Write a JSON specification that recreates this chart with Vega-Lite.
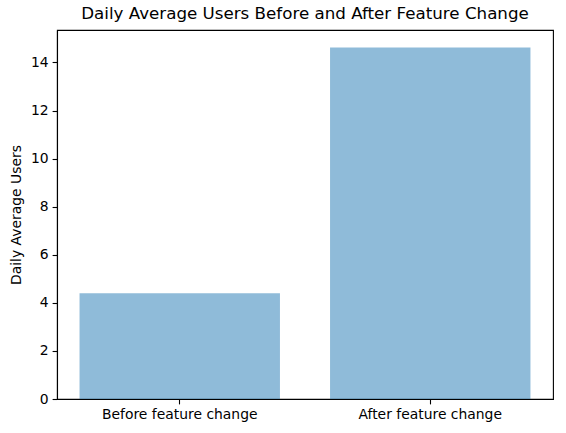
{
  "$schema": "https://vega.github.io/schema/vega-lite/v6.json",
  "width": 496,
  "height": 369,
  "autosize": {"type": "none"},
  "padding": {"left": 57, "top": 30, "right": 13, "bottom": 34},
  "background": "white",
  "title": {
    "text": "Daily Average Users Before and After Feature Change",
    "font": "DejaVu Sans",
    "fontSize": 16.7,
    "fontWeight": "normal",
    "color": "black",
    "anchor": "middle",
    "frame": "group",
    "offset": 7
  },
  "config": {
    "view": {"stroke": "black", "strokeWidth": 1.1},
    "axis": {
      "labelFont": "DejaVu Sans",
      "labelFontSize": 13.9,
      "labelColor": "black",
      "titleFont": "DejaVu Sans",
      "titleFontSize": 13.9,
      "titleFontWeight": "normal",
      "titleColor": "black",
      "domainColor": "black",
      "domainWidth": 1.1,
      "tickColor": "black",
      "tickWidth": 1.1,
      "tickSize": 4.9,
      "labelPadding": 4,
      "grid": false
    }
  },
  "data": {
    "values": [
      {"period": "Before feature change", "users": 4.40},
      {"period": "After feature change", "users": 14.62}
    ]
  },
  "mark": {"type": "bar", "color": "#1f77b4", "opacity": 0.5},
  "encoding": {
    "x": {
      "field": "period",
      "type": "nominal",
      "sort": null,
      "scale": {"paddingInner": 0.2, "paddingOuter": 0.09},
      "axis": {"title": null, "labelAngle": 0}
    },
    "y": {
      "field": "users",
      "type": "quantitative",
      "scale": {"domain": [0, 15.35], "nice": false, "zero": true},
      "axis": {"title": "Daily Average Users", "values": [0, 2, 4, 6, 8, 10, 12, 14], "titlePadding": 7}
    }
  }
}
